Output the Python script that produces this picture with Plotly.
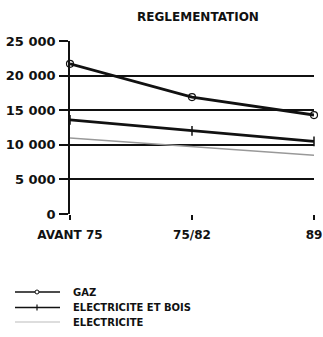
import plotly.graph_objects as go

periods = ["AVANT 75", "75/82", "89"]
x_pos = [0, 1, 2]
gaz = [21700, 16900, 14300]
elec_bois = [13600, 12000, 10500]
elec = [11000, 9800, 8500]
y_ticks = [0, 5000, 10000, 15000, 20000, 25000]
y_tick_text = ["0", "5 000", "10 000", "15 000", "20 000", "25 000"]
series_names = ["GAZ", "ELECTRICITE ET BOIS", "ELECTRICITE"]

font_family = "DejaVu Sans"
W, H = 323, 337
ML, MR, MT, MB = 70, 9, 41, 123
PW, PH = W - ML - MR, H - MT - MB


def px(x):
    return (x - ML) / PW


def py(y):
    return (H - MB - y) / PH


fig = go.Figure()
fig.add_trace(go.Scatter(
    x=x_pos, y=gaz, name=series_names[0], mode="lines+markers",
    line=dict(color="#111", width=2.8),
    marker=dict(symbol="circle-open", size=7, color="#111", line=dict(width=1.2)),
    cliponaxis=False,
))
fig.add_trace(go.Scatter(
    x=x_pos, y=elec_bois, name=series_names[1], mode="lines+markers",
    line=dict(color="#111", width=2.8),
    marker=dict(symbol="line-ns", size=7, color="#111", line=dict(width=1.5, color="#111")),
    cliponaxis=False,
))
fig.add_trace(go.Scatter(
    x=x_pos, y=elec, name=series_names[2], mode="lines",
    line=dict(color="#999", width=1.5),
))

# hand-drawn legend below the chart
legend_rows = [292, 307.5, 322]
styles = [("#111", 1.5), ("#111", 1.5), ("#bbb", 1)]
shapes = []
annotations = []
for name, yrow, (col, wd) in zip(series_names, legend_rows, styles):
    shapes.append(dict(type="line", xref="paper", yref="paper",
                       x0=px(15), x1=px(60), y0=py(yrow), y1=py(yrow),
                       line=dict(color=col, width=wd)))
    annotations.append(dict(x=px(71), y=py(yrow), xref="paper", yref="paper",
                            text=f"<b>{name}</b>", showarrow=False,
                            xanchor="left", yanchor="middle",
                            font=dict(size=10, family=font_family, color="#111")))
shapes.append(dict(type="circle", xref="paper", yref="paper",
                   x0=px(35), x1=px(39), y0=py(legend_rows[0] + 2), y1=py(legend_rows[0] - 2),
                   line=dict(color="#111", width=1), fillcolor="white"))
shapes.append(dict(type="line", xref="paper", yref="paper",
                   x0=px(37), x1=px(37), y0=py(legend_rows[1] - 3), y1=py(legend_rows[1] + 3),
                   line=dict(color="#111", width=1.2)))

fig.update_layout(
    width=W, height=H,
    margin=dict(l=ML, r=MR, t=MT, b=MB, autoexpand=False),
    paper_bgcolor="white", plot_bgcolor="white",
    font=dict(family=font_family, color="#111", size=10),
    title=dict(text="<b>REGLEMENTATION</b>", xref="paper", x=px(198), xanchor="center",
               y=1 - 17 / H, yanchor="middle",
               font=dict(size=12, family=font_family, color="#111")),
    showlegend=False,
    shapes=shapes,
    annotations=annotations,
)
fig.update_xaxes(
    range=[0, 2], tickvals=x_pos, ticktext=[f"<b>{p}</b>" for p in periods],
    showgrid=False, zeroline=False, showline=False, automargin=False,
    ticks="outside", ticklen=5, tickwidth=1.5, tickcolor="#111",
    ticklabelstandoff=5, ticklabeloverflow="allow",
    tickfont=dict(size=12, family=font_family, color="#111"),
)
fig.update_yaxes(
    range=[0, 25000], tickvals=y_ticks, ticktext=[f"<b>{t}</b>" for t in y_tick_text],
    showgrid=True, gridcolor="#111", gridwidth=1.6, automargin=False,
    zeroline=False, showline=True, linecolor="#111", linewidth=1.6,
    ticks="outside", ticklen=9, tickwidth=1.5, tickcolor="#111",
    ticklabelstandoff=1,
    tickfont=dict(size=13, family=font_family, color="#111"),
)

fig.write_html("out.html")
